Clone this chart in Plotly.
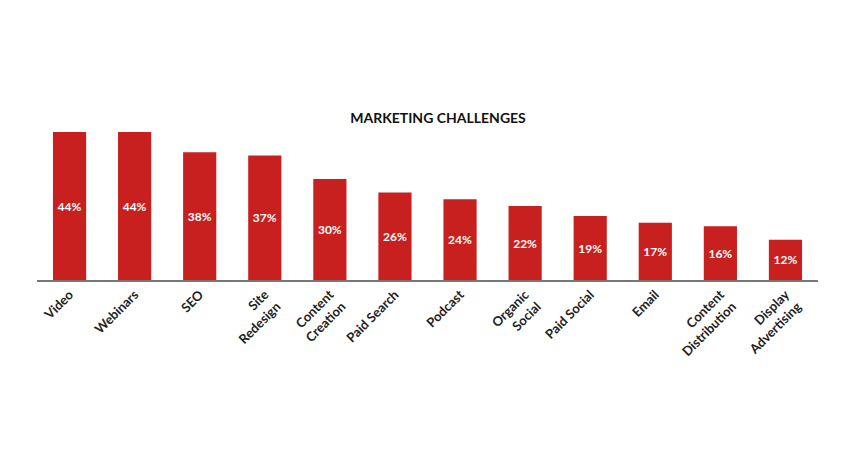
import plotly.graph_objects as go

categories = ["Video", "Webinars", "SEO", "Site<br>Redesign", "Content<br>Creation", "Paid Search",
              "Podcast", "Organic<br>Social", "Paid Social", "Email", "Content<br>Distribution", "Display<br>Advertising"]
values = [44, 44, 38, 37, 30, 26, 24, 22, 19, 17, 16, 12]
labels = [f"{v}%" for v in values]

fig = go.Figure(go.Bar(
    x=categories, y=values, text=labels, textposition="inside", insidetextanchor="middle",
    textfont=dict(color="white", size=12, family="Lato", weight="bold"),
    marker=dict(color="#c8201e", line=dict(width=0)), width=0.51,
))
fig.update_layout(
    width=860, height=450, plot_bgcolor="white", paper_bgcolor="white",
    margin=dict(l=29, r=50, t=124, b=178),
    title=dict(text="<b>MARKETING CHALLENGES</b>", x=0.5, xanchor="center", y=1 - 110/450, yanchor="middle",
               font=dict(size=14, color="#111", family="Lato")),
    showlegend=False, uniformtext=dict(mode=False),
)
fig.update_xaxes(tickangle=-45, showline=True, linecolor="#777", linewidth=2, ticks="", automargin=False,
                 tickfont=dict(size=13, color="#222", family="Lato", weight="bold"))
fig.update_yaxes(range=[0, 44], visible=False, showgrid=False, automargin=False)
fig.write_html("out.html")
